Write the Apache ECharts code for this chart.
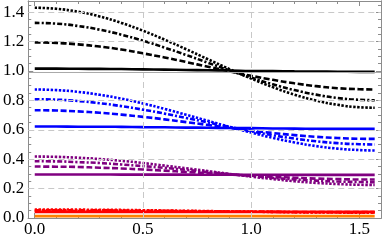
<!DOCTYPE html>
<html><head><meta charset="utf-8">
<script src="https://cdn.jsdelivr.net/npm/echarts@6/dist/echarts.min.js"></script>
<style>html,body{margin:0;padding:0;background:#fff}#c{width:382px;height:244px}</style>
</head><body><div id="c"></div>
<script>
// sample positions (x)
const xs = [0, 0.1, 0.2, 0.3, 0.4, 0.5, 0.6, 0.7, 0.8, 0.9, 1.0, 1.1, 1.2, 1.3, 1.4, 1.5, 1.5708];
// black family
const blackSolid  = [1.016,1.016,1.015,1.014,1.013,1.011,1.009,1.007,1.005,1.003,1.000,0.999,0.997,0.996,0.995,0.994,0.994];
const blackDashed = [1.194,1.191,1.181,1.166,1.146,1.120,1.092,1.061,1.029,0.998,0.967,0.940,0.916,0.897,0.883,0.876,0.874];
const blackDashDot= [1.327,1.322,1.306,1.281,1.247,1.206,1.159,1.109,1.056,1.004,0.955,0.909,0.870,0.839,0.816,0.804,0.801];
const blackDotted = [1.430,1.423,1.403,1.371,1.327,1.274,1.213,1.148,1.080,1.013,0.949,0.890,0.839,0.799,0.770,0.753,0.750];
// blue family
const blueSolid   = [0.622,0.622,0.621,0.621,0.620,0.618,0.617,0.615,0.614,0.612,0.611,0.609,0.608,0.607,0.606,0.606,0.606];
const blueDashed  = [0.733,0.731,0.725,0.716,0.703,0.688,0.671,0.652,0.633,0.613,0.595,0.578,0.564,0.552,0.544,0.539,0.538];
const blueDashDot = [0.808,0.805,0.796,0.781,0.761,0.737,0.710,0.680,0.650,0.619,0.590,0.563,0.540,0.522,0.509,0.502,0.500];
const blueDotted  = [0.874,0.870,0.858,0.838,0.812,0.779,0.742,0.702,0.661,0.620,0.581,0.545,0.514,0.489,0.472,0.462,0.459];
// purple family
const purpleSolid   = [0.296,0.296,0.296,0.296,0.295,0.295,0.295,0.295,0.294,0.294,0.294,0.294,0.293,0.293,0.293,0.293,0.293];
const purpleDashed  = [0.350,0.349,0.347,0.342,0.337,0.330,0.322,0.313,0.305,0.296,0.288,0.280,0.274,0.268,0.265,0.262,0.262];
const purpleDashDot = [0.386,0.385,0.380,0.374,0.364,0.353,0.341,0.327,0.313,0.299,0.285,0.273,0.263,0.254,0.248,0.245,0.244];
const purpleDotted  = [0.418,0.416,0.410,0.401,0.389,0.374,0.356,0.338,0.319,0.300,0.281,0.265,0.250,0.239,0.231,0.226,0.225];
// red family
const redSolid   = [0.042,0.042,0.042,0.042,0.042,0.042,0.042,0.042,0.042,0.042,0.042,0.042,0.042,0.042,0.042,0.042,0.042];
const redDashed  = [0.048,0.048,0.048,0.047,0.047,0.046,0.046,0.045,0.044,0.043,0.043,0.042,0.041,0.041,0.040,0.040,0.040];
const redDashDot = [0.053,0.053,0.052,0.052,0.051,0.050,0.049,0.047,0.046,0.044,0.043,0.042,0.040,0.039,0.039,0.038,0.038];
const redDotted  = [0.058,0.058,0.057,0.056,0.055,0.053,0.051,0.049,0.047,0.045,0.043,0.041,0.039,0.038,0.037,0.036,0.036];
// orange
const orangeSolid = [0.013,0.013,0.013,0.013,0.013,0.013,0.013,0.013,0.013,0.013,0.013,0.013,0.013,0.013,0.013,0.013,0.013];

// ticks
const xMajorTicks = [0, 0.5, 1.0, 1.5];
const yMajorTicks = [0, 0.2, 0.4, 0.6, 0.8, 1.0, 1.2, 1.4];
const xGrid = [0.5, 1.0];
const yGrid = [0.2, 0.4, 0.6, 0.8, 1.2, 1.4];
const yRefLine = 0.988;

const xMinorTicks = []; for (let i = 0; i <= 16; i++) xMinorTicks.push(+(i * 0.1).toFixed(2));
const yMinorTicks = []; for (let i = 0; i <= 29; i++) yMinorTicks.push(+(i * 0.05).toFixed(2));

const XMIN = -0.03, XMAX = 1.6, YMIN = 0, YMAX = 1.476;
const frameColor = '#8c8c8c';
const FONT = '"Liberation Serif", "DejaVu Serif", serif';

function xAx(pos, vals, len, labels) {
  return {
    type: 'value', min: XMIN, max: XMAX, position: pos,
    axisLine: { show: true, onZero: false, lineStyle: { color: frameColor, width: 1 } },
    splitLine: { show: false },
    axisTick: { show: true, inside: true, length: len, customValues: vals, lineStyle: { color: frameColor, width: 1 } },
    axisLabel: labels ? { show: true, customValues: vals, formatter: v => v.toFixed(1), fontFamily: FONT, fontSize: 17, color: '#000', margin: 3 } : { show: false }
  };
}
function yAx(pos, vals, len, labels) {
  return {
    type: 'value', min: YMIN, max: YMAX, position: pos,
    axisLine: { show: true, onZero: false, lineStyle: { color: frameColor, width: 1 } },
    splitLine: { show: false },
    axisTick: { show: true, inside: true, length: len, customValues: vals, lineStyle: { color: frameColor, width: 1 } },
    axisLabel: labels ? { show: true, customValues: vals, formatter: v => v.toFixed(1), fontFamily: FONT, fontSize: 17, color: '#000', margin: 4 } : { show: false }
  };
}

const DOT = [2.4, 1.6], DASH = [6, 2.6], DASHDOT = [5, 2, 2.2, 2];
function mk(ys, color, type, w) {
  return {
    type: 'line', data: xs.map((x, i) => [x, ys[i]]), showSymbol: false, symbol: 'none',
    smooth: true, z: 3,
    lineStyle: { color: color, width: w || 2.6, type: type, cap: 'butt' }
  };
}

const gridSeries = {
  type: 'line', data: [], z: 1, silent: true,
  markLine: {
    silent: true, symbol: 'none', label: { show: false }, animation: false,
    data: [
      ...xGrid.map(v => ({ xAxis: v, lineStyle: { color: '#c8c8c8', type: [6, 4], width: 1 } })),
      ...yGrid.map(v => ({ yAxis: v, lineStyle: { color: '#c8c8c8', type: [6, 4], width: 1 } })),
      { yAxis: yRefLine, lineStyle: { color: '#aaaaaa', type: 'solid', width: 1 } }
    ]
  }
};

const chart = echarts.init(document.getElementById('c'), null, { renderer: 'canvas' });
chart.setOption({
  animation: false,
  backgroundColor: '#fff',
  grid: { left: 25, right: 1, top: 1, bottom: 26, containLabel: false },
  xAxis: [xAx('bottom', xMajorTicks, 5, true), xAx('bottom', xMinorTicks, 3, false), xAx('top', xMajorTicks, 5, false), xAx('top', xMinorTicks, 3, false)],
  yAxis: [yAx('left', yMajorTicks, 5, true), yAx('left', yMinorTicks, 3, false), yAx('right', yMajorTicks, 5, false), yAx('right', yMinorTicks, 3, false)],
  series: [
    gridSeries,
    mk(orangeSolid, '#ff8000', 'solid', 2.6),
    mk(redSolid, '#ff0000', 'solid'),
    mk(redDashed, '#ff0000', DASH),
    mk(redDashDot, '#ff0000', DASHDOT),
    mk(redDotted, '#ff0000', DOT),
    mk(purpleSolid, '#800080', 'solid'),
    mk(purpleDashed, '#800080', DASH),
    mk(purpleDashDot, '#800080', DASHDOT),
    mk(purpleDotted, '#800080', DOT),
    mk(blueSolid, '#0000ff', 'solid'),
    mk(blueDashed, '#0000ff', DASH),
    mk(blueDashDot, '#0000ff', DASHDOT),
    mk(blueDotted, '#0000ff', DOT),
    mk(blackSolid, '#000000', 'solid'),
    mk(blackDashed, '#000000', DASH),
    mk(blackDashDot, '#000000', DASHDOT),
    mk(blackDotted, '#000000', DOT)
  ]
});
</script></body></html>
